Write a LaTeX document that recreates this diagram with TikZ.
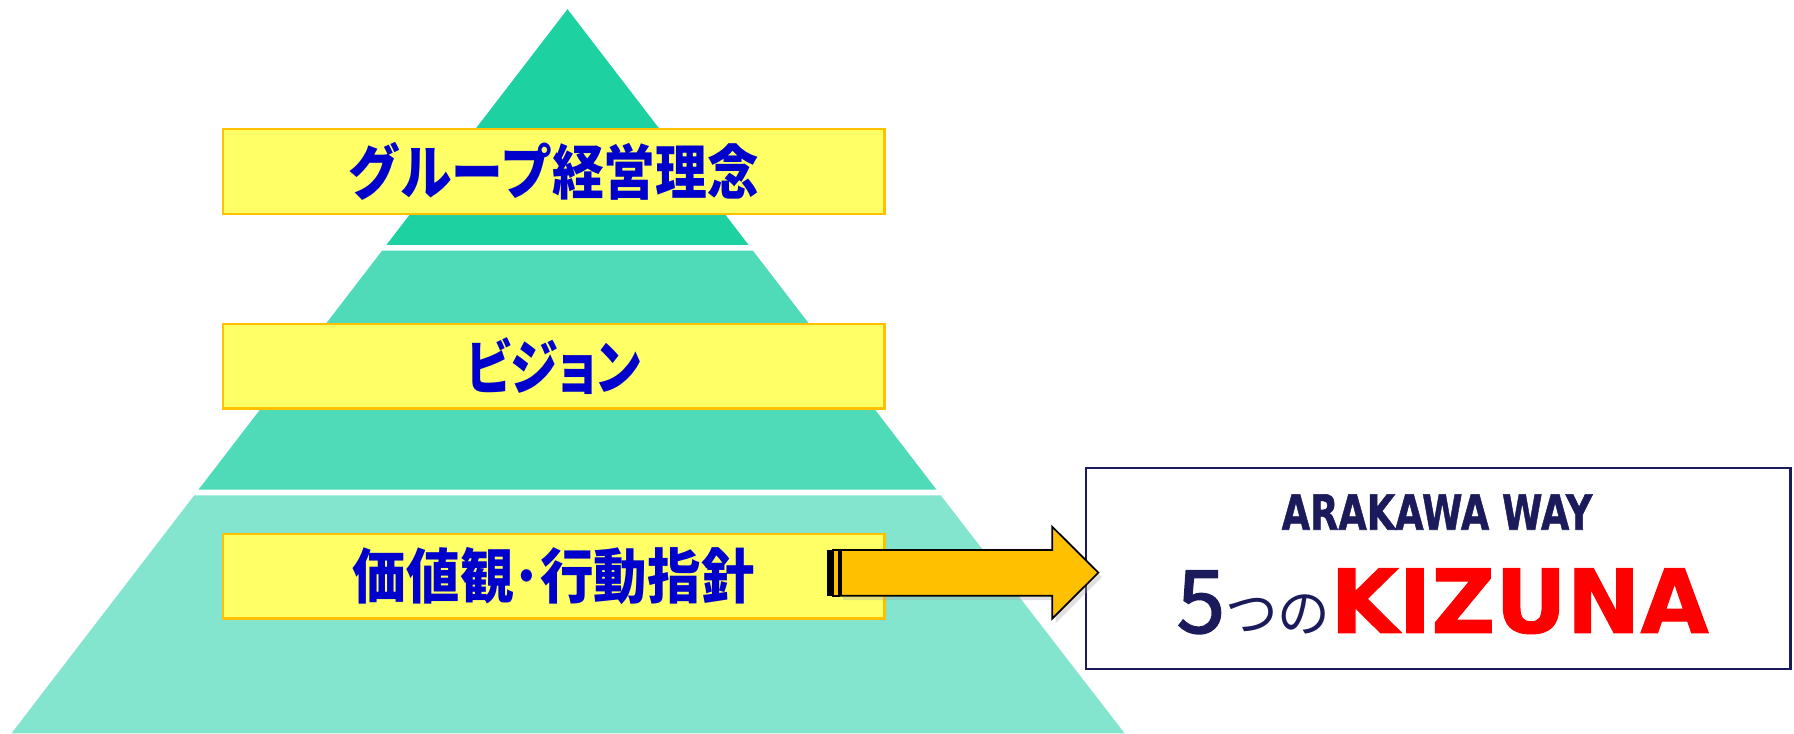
\documentclass[tikz,border=0pt]{standalone}
\usepackage{fontspec}
\newfontfamily\jp{Noto Sans CJK JP}
\newfontfamily\jpp{Noto Sans CJK JP}[RawFeature=+palt]
\newfontfamily\jpfive{Noto Sans CJK JP}[FakeBold=2]
\newfontfamily\heavysans{DejaVu Sans}[BoldFeatures={FakeBold=1.2}]
\usetikzlibrary{shadows}
\definecolor{layA}{HTML}{1DD1A1}
\definecolor{layB}{HTML}{4FDAB8}
\definecolor{layC}{HTML}{83E5CE}
\definecolor{boxfill}{HTML}{FFFF66}
\definecolor{boxline}{HTML}{FFC000}
\definecolor{jblue}{HTML}{0000CC}
\definecolor{navy}{HTML}{1B1B5C}
\definecolor{arrowfill}{HTML}{FFC000}
\definecolor{kred}{HTML}{FF0000}
\newcommand\mysx[2]{\scalebox{#1}[1]{#2}}
\tikzset{
  ybox/.style={rectangle, draw=boxline, fill=boxfill, line width=2pt,
    minimum width=578pt, minimum height=74pt, inner sep=0pt},
  jtext/.style={font=\jp\bfseries\fontsize{52}{52}\selectfont, text=jblue, inner sep=0pt},
  jptext/.style={font=\jpp\bfseries\fontsize{52}{52}\selectfont, text=jblue, inner sep=0pt},
  kbox/.style={rectangle, draw=navy, fill=white, line width=2pt,
    minimum width=616pt, minimum height=176pt, inner sep=0pt},
  arrowpart/.style={draw=black, line width=1.5pt, fill=arrowfill, line join=miter}
}
\begin{document}
\begin{tikzpicture}[x=1pt,y=-1pt]
\useasboundingbox (0,0) rectangle (1568,641);
% pyramid layers
\fill[layA] (496,8) -- (654.2,214) -- (337.8,214) -- cycle;
\fill[layB] (334,219) -- (658,219) -- (818.5,428) -- (173.5,428) -- cycle;
\fill[layC] (169.7,433) -- (822.3,433) -- (983,641) -- (10,641) -- cycle;
% boxes
\node[ybox] (b1) at (484,150) {};
\node[ybox] (b2) at (484,320) {};
\node[ybox] (b3) at (484,503.5) {};
\node[jtext] (t1) at (b1.center) {\mysx{0.87}{グループ経営理念}};
\node[jptext] (t2) at (b2.center) {\mysx{0.81}{ビジョン}};
\node[jptext] (t3) at (b3.center) {\mysx{0.9}{価値観･行動指針}};
% right box
\node[kbox] (kiz) at (1257,497) {};
\node[anchor=base, inner sep=0pt, text=navy] (way) at (1256,463)
  {\mysx{0.755}{\heavysans\bfseries\fontsize{42.5}{42.5}\selectfont ARAKAWA WAY}};
\node[anchor=base, inner sep=0pt, text=navy] (kizuna) at (1261,553)
  {{\jpfive\fontsize{76}{76}\selectfont 5}{\jp\fontsize{46}{46}\selectfont つの}{\heavysans\bfseries\fontsize{77}{77}\selectfont\color{kred}KIZUNA}};
% striped arrow
\fill[black!35, opacity=0.35] (737,484.7) -- (922.6,484.7) -- (922.6,464.3) -- (963,504.5) -- (922.6,544.7) -- (922.6,524.6) -- (737,524.6) -- cycle;
\fill[black] (722.5,480.7) rectangle (727.2,520.6);
\path[arrowpart] (728.3,480.7) rectangle (733,520.6);
\path[arrowpart] (735,480.7) -- (919.6,480.7) -- (919.6,460.3) -- (960,500.5) -- (919.6,540.7) -- (919.6,520.6) -- (735,520.6) -- cycle;
\end{tikzpicture}
\end{document}
